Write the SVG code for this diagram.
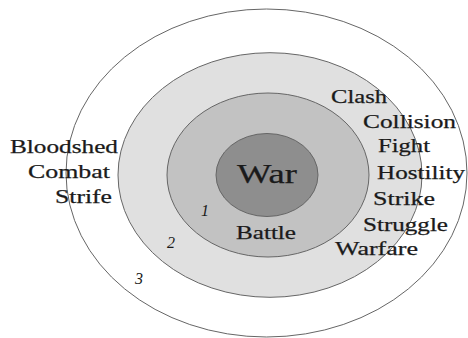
<svg xmlns="http://www.w3.org/2000/svg" width="468" height="338" viewBox="0 0 468 338">
<style>
.ring{stroke:#666666;stroke-width:1}
.t{font-family:"Liberation Serif","DejaVu Serif",serif;font-size:19px;fill:#1a1a1a;stroke:#1a1a1a;stroke-width:0.25px}
.big{font-size:27px}
.n{font-family:"Liberation Serif","DejaVu Serif",serif;font-size:16px;font-style:italic;fill:#1a1a1a}
</style>
<rect width="468" height="338" fill="#ffffff"/>
<g id="ring3">
<ellipse class="ring" cx="266.5" cy="173" rx="200.5" ry="164" fill="#ffffff"/>
</g>
<g id="ring2">
<ellipse class="ring" cx="270" cy="175" rx="152" ry="122.3" fill="#e0e0e0"/>
</g>
<g id="ring1">
<ellipse class="ring" cx="268" cy="175" rx="101" ry="82" fill="#c2c2c2"/>
</g>
<g id="core">
<ellipse class="ring" cx="267" cy="175" rx="51" ry="41.5" fill="#8e8e8e"/>
<text class="t big" x="237" y="183" textLength="60" lengthAdjust="spacingAndGlyphs">War</text>
</g>
<g id="labels-ring1">
<text class="t" x="236" y="239" textLength="60" lengthAdjust="spacingAndGlyphs">Battle</text>
<text class="n" x="201" y="216">1</text>
</g>
<g id="labels-ring2">
<text class="t" x="331" y="103" textLength="56" lengthAdjust="spacingAndGlyphs">Clash</text>
<text class="t" x="363" y="128" textLength="93" lengthAdjust="spacingAndGlyphs">Collision</text>
<text class="t" x="378" y="152" textLength="52" lengthAdjust="spacingAndGlyphs">Fight</text>
<text class="t" x="377" y="179" textLength="88" lengthAdjust="spacingAndGlyphs">Hostility</text>
<text class="t" x="373" y="205" textLength="62" lengthAdjust="spacingAndGlyphs">Strike</text>
<text class="t" x="363" y="231" textLength="85" lengthAdjust="spacingAndGlyphs">Struggle</text>
<text class="t" x="335" y="255" textLength="83" lengthAdjust="spacingAndGlyphs">Warfare</text>
<text class="n" x="167" y="248">2</text>
</g>
<g id="labels-ring3">
<text class="t" x="10" y="153" textLength="108" lengthAdjust="spacingAndGlyphs">Bloodshed</text>
<text class="t" x="28" y="178" textLength="82" lengthAdjust="spacingAndGlyphs">Combat</text>
<text class="t" x="55" y="203" textLength="57" lengthAdjust="spacingAndGlyphs">Strife</text>
<text class="n" x="135" y="284">3</text>
</g>
</svg>
